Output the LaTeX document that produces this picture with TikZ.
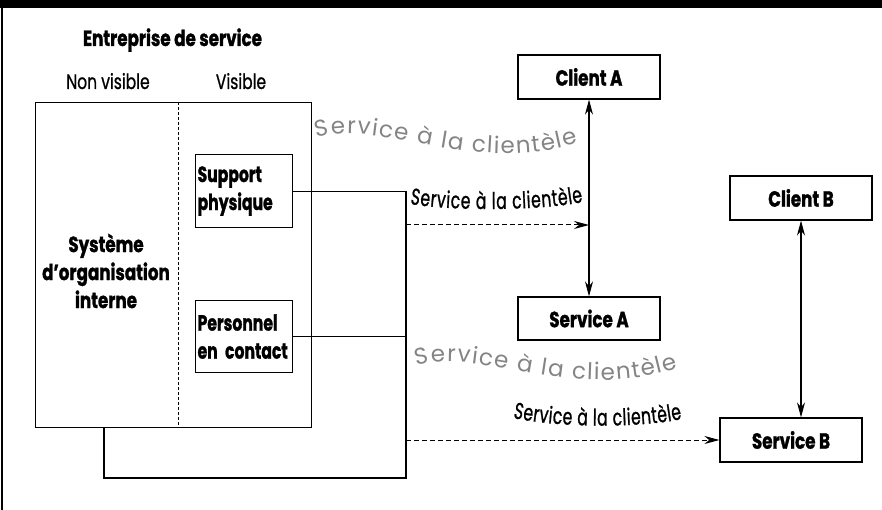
\documentclass[tikz,border=0pt]{standalone}
\usepackage{fontspec}
\setmainfont{Poppins}
\newfontfamily\cnd[FakeStretch=0.76,BoldFeatures={FakeBold=1.2}]{Poppins}
\newfontfamily\cndn[FakeStretch=0.71,BoldFeatures={FakeBold=1.2}]{Poppins}
\newfontfamily\cndm[FakeStretch=0.74,FakeBold=0.8]{Poppins}
\newfontfamily\cndw[FakeStretch=0.68,FakeBold=1]{Poppins}
\newfontfamily\grayfont{Poppins}
\usetikzlibrary{arrows.meta,decorations.text}
\definecolor{graytxt}{RGB}{132,132,132}
\newcommand\bxfont{\cnd\bfseries\fontsize{22}{28}\selectfont}
\newcommand\bxnfont{\cndn\bfseries\fontsize{22}{28}\selectfont}
\newcommand\lbfont{\cndm\fontsize{21}{26}\selectfont}
\newcommand\wvfont{\cndw\fontsize{23}{26}\selectfont}
\begin{document}
\begin{tikzpicture}[x=1pt,y=-1pt,
  box/.style={draw, line width=1.2pt, font=\bxfont, align=center, inner sep=0pt},
  vbox/.style={box, font=\bxnfont, text width=93pt, align=left, inner xsep=2pt, anchor=north west},
  ln/.style={line width=1.1pt},
  dl/.style={line width=1pt, dash pattern=on 5pt off 3pt},
  tip/.style={-{Stealth[length=15pt,width=8pt]}},
  dtip/.style={{Stealth[length=15pt,width=8pt]}-{Stealth[length=15pt,width=8pt]}},
  hd/.style={font=\lbfont, anchor=base},
  graywave/.style={decorate, decoration={text along path, text align={fit to path},
     text={|\grayfont\fontsize{23}{26}\selectfont\color{graytxt}|Service à la clientèle}}},
  blackwave/.style={decorate, decoration={text along path, text align={fit to path},
     text={|\wvfont|Service à la clientèle}}}
]
\useasboundingbox (0,0) rectangle (882,510);
\fill (0,0) rectangle (882,8);
\draw[line width=1.5pt] (2,8) -- (2,510);

% headings
\node[font=\bxfont, anchor=base] (ent) at (172.5,46) {Entreprise de service};
\node[hd] (nv) at (108,89) {Non visible};
\node[hd] (vis) at (241,89) {Visible};

% main box
\node[draw, line width=1.2pt, minimum width=276pt, minimum height=325pt, inner sep=0pt, anchor=north west] (main) at (35,102) {};
\draw[line width=0.9pt, dash pattern=on 3pt off 2pt] (178,102) -- (178,427);
\node[font=\bxfont, align=center] (sys) at (106,271) {Système\\d’organisation\\interne};

\node[vbox, minimum height=73pt] (sup) at (195,154) {Support\\physique};
\node[vbox, minimum height=72pt] (per) at (195,300) {Personnel\\en contact};

% right boxes
\node[box, minimum width=142pt, minimum height=44pt] (ca) at (589,77) {Client A};
\node[box, minimum width=142pt, minimum height=43pt] (sa) at (589,318.5) {Service A};
\node[box, minimum width=142pt, minimum height=44pt] (cb) at (801,198) {Client B};
\node[box, minimum width=142pt, minimum height=44pt] (sb) at (791,440) {Service B};

% connectors
\coordinate (rb) at (406,478);
\coordinate (bl) at (104,478);
\coordinate (d1) at (406,225);
\coordinate (d2) at (406,440);
\draw[ln] (sup.east) -| (rb) -- (bl) -- (bl |- main.south);
\draw[ln] (per.east) -- (per.east -| rb);
\draw[dl, tip] (d1) -- (d1 -| ca.south);
\draw[dl, tip] (d2) -- (d2 -| sb.west);
\draw[ln, dtip] (ca.south) -- (sa.north);
\draw[ln, dtip] (cb.south) -- (cb.south |- sb.north);

% wavy labels
\path[graywave] (317,138) .. controls (380,118) and (470,176) .. (578,143);
\path[graywave] (417,366) .. controls (480,346) and (570,404) .. (678,368);
\path[blackwave] (410,204) .. controls (450,211) and (540,211) .. (583,202);
\path[blackwave] (513,418) .. controls (560,428) and (640,428) .. (682,419);
\end{tikzpicture}
\end{document}
